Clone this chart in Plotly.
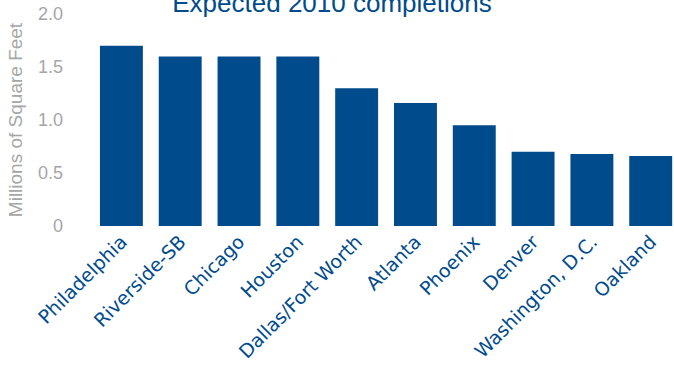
import plotly.graph_objects as go

cities = ["Philadelphia", "Riverside-SB", "Chicago", "Houston", "Dallas/Fort Worth",
          "Atlanta", "Phoenix", "Denver", "Washington, D.C.", "Oakland"]
completions = [1.70, 1.60, 1.60, 1.60, 1.30, 1.16, 0.95, 0.70, 0.68, 0.66]
y_ticks = [0, 0.5, 1.0, 1.5, 2.0]
y_tick_labels = ["0", "0.5", "1.0", "1.5", "2.0"]

BLUE = "#004b8c"
GRAY = "#a6a6a6"

fig = go.Figure(go.Bar(x=cities, y=completions, marker_color=BLUE, marker_line_width=0))

fig.update_layout(
    width=674, height=366,
    margin=dict(l=92, r=0, t=14, b=140),
    paper_bgcolor="white", plot_bgcolor="white",
    bargap=0.27,
    showlegend=False,
    title=dict(text="Expected 2010 completions", x=332/674, xanchor="center",
               y=1 - 12/366, yanchor="bottom", xref="container", yref="container",
               font=dict(family="Liberation Sans, Arial", size=26, color=BLUE)),
)
fig.update_xaxes(range=[-0.5, 9.396], tickangle=-45, showgrid=False, showline=False,
                 ticks="", automargin=False,
                 tickfont=dict(family="DejaVu Sans", size=19, color=BLUE))
fig.update_yaxes(range=[0, 2.0], tickvals=y_ticks, ticktext=y_tick_labels, showgrid=False,
                 zeroline=False, showline=False, ticks="", ticklabelstandoff=28,
                 automargin=False,
                 tickfont=dict(family="Liberation Sans, Arial", size=18, color=GRAY),
                 title=dict(text="Millions of Square Feet", standoff=10,
                            font=dict(family="Liberation Sans, Arial", size=19, color=GRAY)))

fig.write_html("out.html")
